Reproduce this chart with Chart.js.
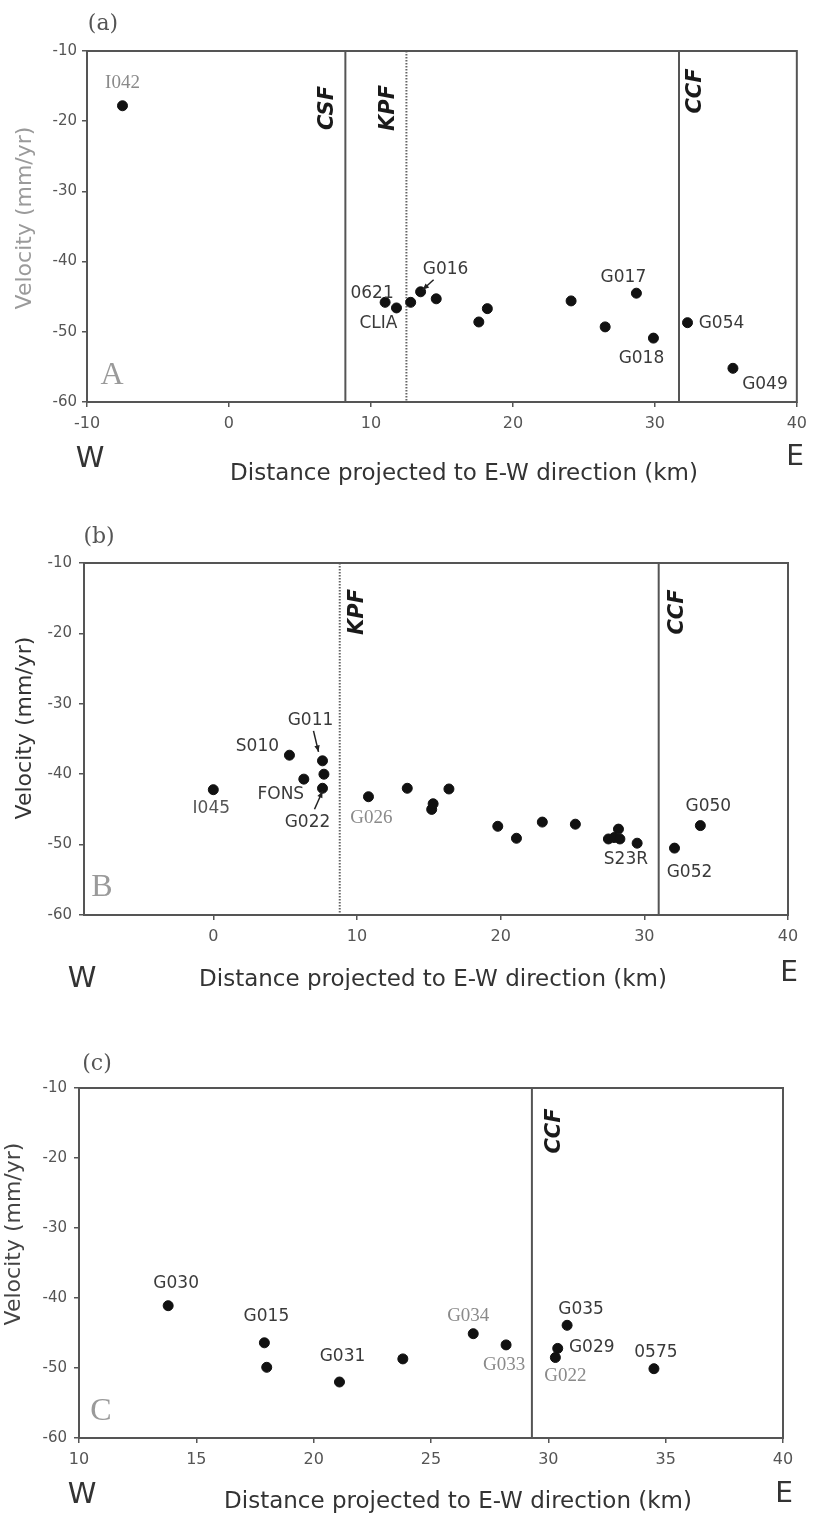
<!DOCTYPE html>
<html>
<head>
<meta charset="utf-8">
<script src="https://cdn.jsdelivr.net/npm/chart.js@4.4.1/dist/chart.umd.min.js"></script>
<style>
  body { margin: 0; background: #fff; }
  .panel { position: absolute; left: 0; width: 814px; }
</style>
</head>
<body>
<div class="panel" style="top:0;height:500px"><canvas id="chartA"></canvas></div>
<div class="panel" style="top:478px;height:512px"><canvas id="chartB"></canvas></div>
<div class="panel" style="top:990px;height:529px"><canvas id="chartC"></canvas></div>
<script>
// ---- data ----
const velTicks = [-10, -20, -30, -40, -50, -60];

// panel (a)
const namesA = ['I042', '0621', 'CLIA', '', 'G016', '', '', '', '', '', 'G017', 'G018', 'G054', 'G049'];
const distA  = [-7.5, 11.0, 11.8, 12.8, 13.5, 14.6, 17.6, 18.2, 24.1, 26.5, 28.7, 29.9, 32.3, 35.5];
const velA   = [-17.8, -45.8, -46.6, -45.8, -44.3, -45.3, -48.6, -46.7, -45.6, -49.3, -44.5, -50.9, -48.7, -55.2];
const faultNamesA = ['CSF', 'KPF', 'CCF'];
const faultDistA  = [8.2, 12.5, 31.7];
const distTicksA  = [-10, 0, 10, 20, 30, 40];

// panel (b)
const namesB = ['I045', 'S010', 'FONS', 'G011', '', 'G022', 'G026', '', '', '', '', '', '', '', '', '', '', '', 'S23R', '', 'G052', 'G050'];
const distB  = [0.0, 5.3, 6.3, 7.6, 7.7, 7.6, 10.8, 13.5, 15.2, 15.3, 16.4, 19.8, 21.1, 22.9, 25.2, 27.5, 27.9, 28.2, 28.3, 29.5, 32.1, 33.9];
const velB   = [-42.2, -37.3, -40.7, -38.1, -40.0, -42.0, -43.2, -42.0, -45.0, -44.2, -42.1, -47.4, -49.1, -46.8, -47.1, -49.2, -49.0, -47.8, -49.2, -49.8, -50.5, -47.3];
const faultNamesB = ['KPF', 'CCF'];
const faultDistB  = [8.8, 31.0];
const distTicksB  = [0, 10, 20, 30, 40];

// panel (c)
const namesC = ['G030', 'G015', '', 'G031', '', 'G034', 'G033', 'G035', 'G029', 'G022', '0575'];
const distC  = [13.8, 17.9, 18.0, 21.1, 23.8, 26.8, 28.2, 30.8, 30.4, 30.3, 34.5];
const velC   = [-41.1, -46.4, -49.9, -52.0, -48.7, -45.1, -46.7, -43.9, -47.2, -48.5, -50.1];
const faultNamesC = ['CCF'];
const faultDistC  = [29.3];
const distTicksC  = [10, 15, 20, 25, 30, 35, 40];

const xTitle = 'Distance projected to E-W direction (km)';
const yTitle = 'Velocity (mm/yr)';

// ---- styling / layout ----
const SANS = '"DejaVu Sans", sans-serif';
const SERIF = '"Liberation Serif", serif';

function drawText(ctx, text, x, y, font, color, rot, align) {
  ctx.save();
  ctx.translate(x, y);
  if (rot) ctx.rotate(rot);
  ctx.font = font;
  ctx.fillStyle = color;
  ctx.textAlign = align || 'center';
  ctx.textBaseline = 'middle';
  ctx.fillText(text, 0, 0);
  ctx.restore();
}

function drawArrow(ctx, x1, y1, x2, y2) {
  ctx.save();
  ctx.strokeStyle = '#222';
  ctx.fillStyle = '#222';
  ctx.lineWidth = 1.5;
  ctx.beginPath();
  ctx.moveTo(x1, y1);
  ctx.lineTo(x2, y2);
  ctx.stroke();
  const a = Math.atan2(y2 - y1, x2 - x1);
  ctx.beginPath();
  ctx.moveTo(x2, y2);
  ctx.lineTo(x2 - 7 * Math.cos(a - 0.4), y2 - 7 * Math.sin(a - 0.4));
  ctx.lineTo(x2 - 7 * Math.cos(a + 0.4), y2 - 7 * Math.sin(a + 0.4));
  ctx.closePath();
  ctx.fill();
  ctx.restore();
}

function deco(p) {
  return {
    id: 'deco',
    afterDraw(chart) {
      const ctx = chart.ctx;
      const ca = chart.chartArea;
      const xs = chart.scales.x, ys = chart.scales.y;
      // frame
      ctx.save();
      ctx.strokeStyle = '#555';
      ctx.lineWidth = 2;
      ctx.strokeRect(ca.left, ca.top, ca.right - ca.left, ca.bottom - ca.top);
      ctx.restore();
      // fault names
      p.faultNames.forEach((n, k) => {
        const fx = xs.getPixelForValue(p.faults[k]);
        drawText(ctx, n, fx + p.faultDx[k], ca.top + p.faultDy[k], 'italic bold 21px ' + SANS, '#1a1a1a', -Math.PI / 2);
      });
      // station labels
      p.names.forEach((n, i) => {
        if (!n) return;
        const o = p.labelPos[i];
        const px = xs.getPixelForValue(p.xs[i]), py = ys.getPixelForValue(p.ys[i]);
        const font = o.serif ? '19px ' + SERIF : '17px ' + SANS;
        const col = o.serif ? '#8a8a8a' : (o.col || '#3a3a3a');
        drawText(ctx, n, px + o.dx, py + o.dy, font, col);
        if (o.arrow) {
          const a = o.arrow;
          drawArrow(ctx, px + a[0], py + a[1], px + a[2], py + a[3]);
        }
      });
      // panel marks and titles
      const t = p.text;
      drawText(ctx, p.tag, ca.left + t.tag[0], ca.top + t.tag[1], '22px "DejaVu Serif", serif', '#555');
      drawText(ctx, p.letter, ca.left + t.letter[0], ca.bottom + t.letter[1], '32px ' + SERIF, '#9a9a9a');
      drawText(ctx, 'W', t.w[0], ca.bottom + t.w[1], '29px ' + SANS, '#333');
      drawText(ctx, 'E', t.e[0], ca.bottom + t.e[1], '28px ' + SANS, '#333');
      drawText(ctx, xTitle, t.xt[0], ca.bottom + t.xt[1], '23px ' + SANS, '#333');
      drawText(ctx, yTitle, t.yt[0], ca.top + t.yt[1], '22px ' + SANS, t.ytCol, -Math.PI / 2);
    }
  };
}

function makeChart(id, p) {
  const faultSets = p.faults.map((f, k) => ({
    data: [{ x: f, y: velTicks[0] }, { x: f, y: velTicks[velTicks.length - 1] }],
    showLine: true,
    borderColor: p.dotted[k] ? '#666' : '#555',
    borderWidth: 2,
    borderDash: p.dotted[k] ? [1.5, 1.5] : [],
    pointRadius: 0
  }));
  new Chart(document.getElementById(id), {
    type: 'scatter',
    data: {
      datasets: [{
        data: p.xs.map((x, i) => ({ x: x, y: p.ys[i] })),
        backgroundColor: '#111',
        borderColor: '#111',
        pointRadius: 5,
        pointHoverRadius: 5
      }].concat(faultSets)
    },
    options: {
      responsive: true,
      maintainAspectRatio: false,
      animation: false,
      layout: { padding: { top: p.padTop, right: p.padRight, left: 0, bottom: 0 } },
      plugins: { legend: { display: false }, tooltip: { enabled: false } },
      scales: {
        x: {
          type: 'linear',
          min: p.xMin, max: p.xMax,
          afterBuildTicks: s => { s.ticks = p.xTicks.map(v => ({ value: v })); },
          afterFit: s => { s.height = p.xAxisH; },
          grid: { drawOnChartArea: false, drawTicks: true, tickLength: 5, color: '#555', lineWidth: 1.5 },
          border: { display: false },
          ticks: { font: { family: SANS, size: 16 }, color: '#555', padding: 7, maxRotation: 0, autoSkip: false }
        },
        y: {
          type: 'linear',
          min: -60, max: -10,
          afterBuildTicks: s => { s.ticks = velTicks.map(v => ({ value: v })); },
          afterFit: s => { s.width = p.yAxisW; },
          grid: { drawOnChartArea: false, drawTicks: true, tickLength: 5, color: '#555', lineWidth: 1.5 },
          border: { display: false },
          ticks: { font: { family: SANS, size: 15 }, color: '#555', padding: p.yPad, autoSkip: false }
        }
      }
    },
    plugins: [deco(p)]
  });
}

makeChart('chartA', {
  names: namesA, xs: distA, ys: velA,
  faults: faultDistA, faultNames: faultNamesA, dotted: [false, true, false],
  faultDx: [-18, -18, 17], faultDy: [57, 57, 40],
  xMin: -10, xMax: 40, xTicks: distTicksA,
  padTop: 51, padRight: 17, yAxisW: 87, xAxisH: 98, yPad: 5,
  tag: '(a)', letter: 'A',
  text: { tag: [16, -27], letter: [25, -26], w: [90, 57], e: [795, 56], xt: [464, 72], yt: [25, 167], ytCol: '#9a9a9a' },
  labelPos: {
    0: { dx: 0, dy: -23, serif: true },
    1: { dx: -13, dy: -9 },
    2: { dx: -18, dy: 16 },
    4: { dx: 25, dy: -22, arrow: [13, -12, 2, -2] },
    10: { dx: -13, dy: -16 },
    11: { dx: -12, dy: 20 },
    12: { dx: 34, dy: 1 },
    13: { dx: 32, dy: 16 }
  }
});

makeChart('chartB', {
  names: namesB, xs: distB, ys: velB,
  faults: faultDistB, faultNames: faultNamesB, dotted: [true, false],
  faultDx: [18, 19], faultDy: [49, 49],
  xMin: -9, xMax: 40, xTicks: distTicksB,
  padTop: 85, padRight: 26, yAxisW: 84, xAxisH: 75, yPad: 7,
  tag: '(b)', letter: 'B',
  text: { tag: [15, -26], letter: [18, -27], w: [82, 64], e: [789, 59], xt: [433, 65], yt: [25, 165], ytCol: '#333' },
  labelPos: {
    0: { dx: -2, dy: 19, col: '#555' },
    1: { dx: -32, dy: -9 },
    2: { dx: -23, dy: 15 },
    3: { dx: -12, dy: -40, arrow: [-9, -30, -4, -9] },
    5: { dx: -15, dy: 34, arrow: [-8, 21, 0, 3] },
    6: { dx: 3, dy: 21, serif: true },
    18: { dx: 6, dy: 21 },
    20: { dx: 15, dy: 24 },
    21: { dx: 8, dy: -19 }
  }
});

makeChart('chartC', {
  names: namesC, xs: distC, ys: velC,
  faults: faultDistC, faultNames: faultNamesC, dotted: [false],
  faultDx: [23], faultDy: [43],
  xMin: 10, xMax: 40, xTicks: distTicksC,
  padTop: 98, padRight: 31, yAxisW: 79, xAxisH: 81, yPad: 7,
  tag: '(c)', letter: 'C',
  text: { tag: [18, -24], letter: [22, -26], w: [82, 57], e: [784, 57], xt: [458, 64], yt: [14, 146], ytCol: '#444' },
  labelPos: {
    0: { dx: 8, dy: -22 },
    1: { dx: 2, dy: -26 },
    3: { dx: 3, dy: -25 },
    5: { dx: -5, dy: -18, serif: true },
    6: { dx: -2, dy: 20, serif: true },
    7: { dx: 14, dy: -16 },
    8: { dx: 34, dy: -1 },
    9: { dx: 10, dy: 19, serif: true },
    10: { dx: 2, dy: -16 }
  }
});
</script>
</body>
</html>
